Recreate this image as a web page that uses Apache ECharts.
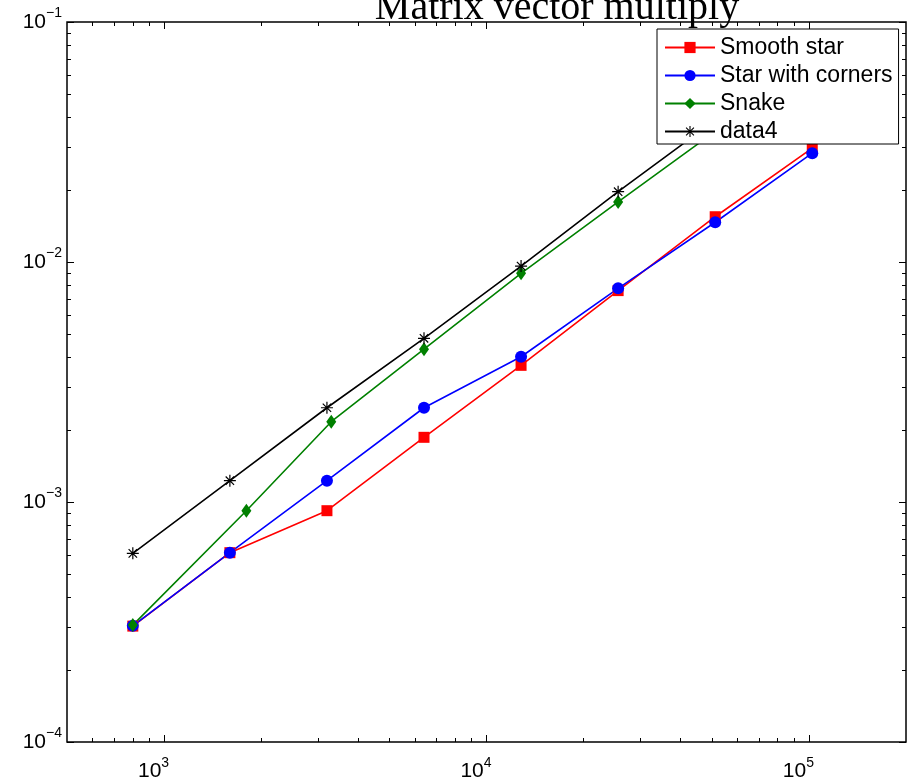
<!DOCTYPE html>
<html>
<head>
<meta charset="utf-8">
<script src="https://cdn.jsdelivr.net/npm/echarts@6/dist/echarts.min.js"></script>
<style>
  html, body { margin: 0; padding: 0; background: #fff; }
  #main { width: 913px; height: 783px; }
</style>
</head>
<body>
<div id="main"></div>
<script>
// problem sizes (x) and timings (y)
const sizes = [800, 1600, 3200, 6400, 12800, 25600, 51200, 102400]
const snakeSizes = [800, 1800, 3300, 6400, 12800, 25600, 51200]
const smoothStar = [3.04e-4, 6.15e-4, 9.2e-4, 1.86e-3, 3.71e-3, 7.6e-3, 1.544e-2, 2.98e-2]
const starCorners = [3.05e-4, 6.15e-4, 1.227e-3, 2.47e-3, 4.03e-3, 7.77e-3, 1.464e-2, 2.84e-2]
const snake = [3.07e-4, 9.2e-4, 2.16e-3, 4.33e-3, 8.97e-3, 1.78e-2, 3.5e-2]
const data4 = [6.11e-4, 1.227e-3, 2.47e-3, 4.81e-3, 9.62e-3, 1.963e-2, 3.9e-2, 7.8e-2]

const xMajorTicks = [1000, 10000, 100000]
const xMinorTicks = [600, 700, 800, 900, 2000, 3000, 4000, 5000, 6000, 7000, 8000, 9000,
  20000, 30000, 40000, 50000, 60000, 70000, 80000, 90000]
const yMajorTicks = [1e-4, 1e-3, 1e-2, 1e-1]
const yMinorTicks = [2e-4, 3e-4, 4e-4, 5e-4, 6e-4, 7e-4, 8e-4, 9e-4,
  2e-3, 3e-3, 4e-3, 5e-3, 6e-3, 7e-3, 8e-3, 9e-3,
  2e-2, 3e-2, 4e-2, 5e-2, 6e-2, 7e-2, 8e-2, 9e-2]

const FONT = 'Liberation Sans'

const chart = echarts.init(document.getElementById('main'), null, { renderer: 'canvas' })

const powLabel = v => {
  const e = Math.round(Math.log10(v))
  return '{b|10}{e|' + (e < 0 ? '\u2212' + (-e) : e) + '}'
}
const labelRich = {
  b: { fontSize: 21, fontFamily: FONT, color: '#000', lineHeight: 21 },
  e: { fontSize: 14, fontFamily: FONT, color: '#000', lineHeight: 14, padding: [0, 0, 17, 0] }
}

// one log axis; major and minor tick sets are separate axes so they get different lengths
function logAxis(kind, position, ticks, len, withLabels) {
  const isX = kind === 'x'
  return {
    type: 'log',
    logBase: 10,
    min: isX ? 500 : 1e-4,
    max: isX ? 200000 : 1e-1,
    position: position,
    axisLine: { show: false, onZero: false },
    splitLine: { show: false },
    minorTick: { show: false },
    axisTick: {
      show: true, inside: true, length: len, customValues: ticks,
      lineStyle: { color: '#000', width: 1 }
    },
    axisLabel: withLabels ? {
      show: true,
      customValues: ticks,
      formatter: powLabel,
      rich: labelRich,
      // x labels sit a little left of their tick in the original
      padding: isX ? [0, 21, 0, 0] : 0,
      margin: isX ? 19 : 5
    } : { show: false }
  }
}

const lineSeries = (name, xs, ys, color, symbol, symbolSize) => ({
  name: name,
  type: 'line',
  data: xs.map((x, i) => [x, ys[i]]),
  symbol: symbol,
  symbolSize: symbolSize,
  showSymbol: true,
  color: color,
  lineStyle: { width: 1.6, color: color },
  itemStyle: { color: color },
  emphasis: { disabled: true },
  xAxisIndex: 0,
  yAxisIndex: 0
})

const asterisk = 'path://M9 0L11 0L11 20L9 20Z M0 9L20 9L20 11L0 11Z M2.3 3.7L3.7 2.3L17.7 16.3L16.3 17.7Z M16.3 2.3L17.7 3.7L3.7 17.7L2.3 16.3Z'

const option = {
  animation: false,
  backgroundColor: '#fff',
  grid: {
    left: 67, right: 7, top: 22, bottom: 41,
    show: true, borderColor: '#000', borderWidth: 1.5, backgroundColor: '#fff',
    containLabel: false, outerBoundsMode: 'none'
  },
  graphic: [{
    type: 'text',
    x: 557, y: 8,
    z: 100,
    style: {
      text: 'Matrix vector multiply',
      font: '40px "Liberation Serif"',
      fill: '#000',
      textAlign: 'center',
      textVerticalAlign: 'middle'
    }
  }],
  legend: {
    orient: 'vertical',
    left: 657, top: 29,
    padding: [7, 6, 1, 7],
    itemWidth: 50, itemHeight: 14, itemGap: 5,
    backgroundColor: '#fff',
    borderColor: '#000', borderWidth: 1,
    textStyle: { fontSize: 23, fontFamily: FONT, color: '#000' },
    data: ['Smooth star', 'Star with corners', 'Snake', 'data4']
  },
  xAxis: [
    logAxis('x', 'bottom', xMajorTicks, 7, true),
    logAxis('x', 'bottom', xMinorTicks, 4, false),
    logAxis('x', 'top', xMajorTicks, 7, false),
    logAxis('x', 'top', xMinorTicks, 4, false)
  ],
  yAxis: [
    logAxis('y', 'left', yMajorTicks, 7, true),
    logAxis('y', 'left', yMinorTicks, 4, false),
    logAxis('y', 'right', yMajorTicks, 7, false),
    logAxis('y', 'right', yMinorTicks, 4, false)
  ],
  series: [
    lineSeries('Smooth star', sizes, smoothStar, '#ff0000', 'rect', 11),
    lineSeries('Star with corners', sizes, starCorners, '#0000ff', 'circle', 12),
    lineSeries('Snake', snakeSizes, snake, '#008000', 'diamond', [10, 14]),
    lineSeries('data4', sizes, data4, '#000000', asterisk, 12)
  ]
}

chart.setOption(option)
</script>
</body>
</html>
